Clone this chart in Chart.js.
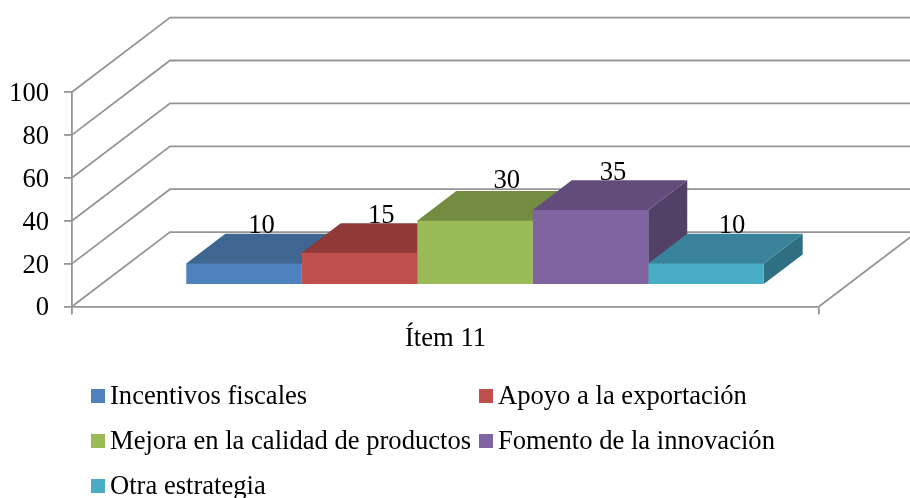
<!DOCTYPE html>
<html lang="es">
<head>
<meta charset="utf-8">
<style>html,body{margin:0;padding:0;background:#fff}canvas{display:block}</style>
<script src="https://cdn.jsdelivr.net/npm/chart.js@4"></script>
</head>
<body>
<canvas id="c" width="910" height="498"></canvas>
<script>
const categories = ["Ítem 11"];
const seriesNames = ["Incentivos fiscales","Apoyo a la exportación","Mejora en la calidad de productos","Fomento de la innovación","Otra estrategia"];
const seriesValues = [10,15,30,35,10];
const frontColors = ["#4f81bd","#c0504d","#9bbb59","#8064a2","#4bacc6"];
const topColors = ["#3f6591","#8f3a38","#748c42","#624c7c","#38829a"];
const sideColors = ["#35577d","#7a3230","#637839","#524066","#2f6f82"];
const FONT = "'Liberation Serif','Times New Roman',serif";
const FONT_SIZE = 26.6;
const GRID = "#959595";
const GRID_W = 1.8;
const WALL = {dx:98, dy:-74.4};     // floor depth
const SHIFT = {dx:29.5, dy:-21.5};  // bar front from axis plane
const BAR = {dx:39, dy:-29.7};      // bar depth
const labelNudgeX = [17.5,21.7,31.7,22.5,26];
const labelNudgeY = [-0.5,-0.5,-2.5,-0.5,-0.5];
const legendLayout = [[91,389],[479,389],[91,434],[479,434],[91,479]];

const box3d = {
  id:"box3d",
  beforeDatasetsDraw(chart){
    const {ctx,scales:{y},chartArea:a} = chart;
    ctx.save();
    ctx.strokeStyle = GRID; ctx.lineWidth = GRID_W;
    y.ticks.forEach(t=>{
      const py = y.getPixelForValue(t.value);
      ctx.beginPath();
      ctx.moveTo(a.left,py);
      ctx.lineTo(a.left+WALL.dx,py+WALL.dy);
      ctx.lineTo(a.right+WALL.dx,py+WALL.dy);
      ctx.stroke();
    });
    const by = y.getPixelForValue(0);
    ctx.beginPath();
    ctx.moveTo(a.right,by);
    ctx.lineTo(a.right+WALL.dx,by+WALL.dy);
    ctx.stroke();
    // top and side faces, left to right
    chart.data.datasets.forEach((ds,i)=>{
      const el = chart.getDatasetMeta(i).data[0];
      const l = el.x-el.width/2+SHIFT.dx, r = el.x+el.width/2+SHIFT.dx;
      const t = el.y+SHIFT.dy, b = el.base+SHIFT.dy;
      ctx.fillStyle = sideColors[i];
      ctx.beginPath();
      ctx.moveTo(r,t);ctx.lineTo(r+BAR.dx,t+BAR.dy);ctx.lineTo(r+BAR.dx,b+BAR.dy);ctx.lineTo(r,b);
      ctx.closePath();ctx.fill();
      ctx.fillStyle = topColors[i];
      ctx.beginPath();
      ctx.moveTo(l,t+1);ctx.lineTo(l,t);ctx.lineTo(l+BAR.dx,t+BAR.dy);ctx.lineTo(r+BAR.dx,t+BAR.dy);ctx.lineTo(r,t);ctx.lineTo(r,t+1);
      ctx.closePath();ctx.fill();
    });
    ctx.restore();
    ctx.save();
    ctx.translate(SHIFT.dx,SHIFT.dy);
  },
  afterDatasetsDraw(chart){
    const {ctx} = chart;
    ctx.restore();
    ctx.save();
    ctx.fillStyle="#000";
    ctx.font=FONT_SIZE+"px "+FONT;
    ctx.textAlign="center";ctx.textBaseline="alphabetic";
    chart.data.datasets.forEach((ds,i)=>{
      const el = chart.getDatasetMeta(i).data[0];
      ctx.fillText(String(ds.data[0]), el.x+SHIFT.dx+labelNudgeX[i], el.y+SHIFT.dy+BAR.dy+labelNudgeY[i]);
    });
    ctx.textAlign="left";
    chart.data.datasets.forEach((ds,i)=>{
      const [lx,ly] = legendLayout[i];
      ctx.fillStyle=frontColors[i];
      ctx.fillRect(lx,ly,14,14);
      ctx.fillStyle="#000";
      ctx.fillText(ds.label,lx+19,ly+15);
    });
    ctx.restore();
  }
};

new Chart(document.getElementById("c"),{
  type:"bar",
  data:{
    labels:categories,
    datasets:seriesNames.map((n,i)=>({label:n,data:[seriesValues[i]],backgroundColor:frontColors[i],borderWidth:0}))
  },
  options:{
    responsive:false,animation:false,
    layout:{padding:{left:0,right:91,top:92,bottom:0}},
    plugins:{legend:{display:false},title:{display:false},tooltip:{enabled:false}},
    datasets:{bar:{categoryPercentage:0.773,barPercentage:1}},
    scales:{
      x:{
        afterFit(s){s.height=191.5},
        grid:{drawOnChartArea:false,drawTicks:true,tickLength:8,color:GRID,lineWidth:GRID_W},
        border:{color:GRID,width:GRID_W},
        ticks:{color:"#000",font:{family:FONT,size:FONT_SIZE},padding:9,maxRotation:0}
      },
      y:{
        min:0,max:100,
        afterFit(s){s.width=72},
        grid:{drawOnChartArea:false,drawTicks:true,tickLength:8,color:GRID,lineWidth:GRID_W},
        border:{color:GRID,width:GRID_W},
        ticks:{stepSize:20,color:"#000",font:{family:FONT,size:FONT_SIZE},padding:15,labelOffset:2}
      }
    }
  },
  plugins:[box3d]
});
</script>
</body>
</html>
